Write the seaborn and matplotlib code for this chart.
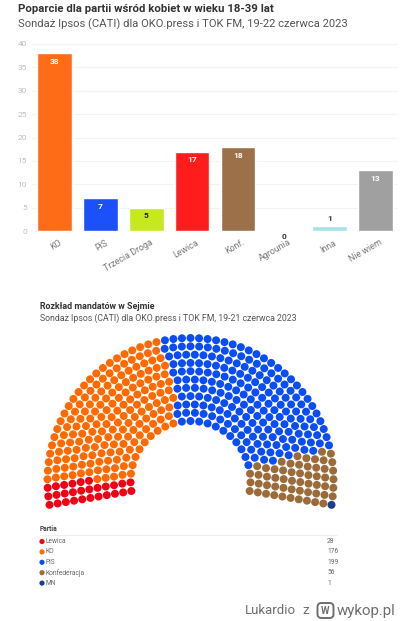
"""Poparcie dla partii i rozklad mandatow - sondaz Ipsos."""

import matplotlib
matplotlib.use('Agg')
import matplotlib.pyplot as plt
from matplotlib.patches import FancyBboxPatch
from matplotlib.transforms import ScaledTranslation
import numpy as np
import pandas as pd
import seaborn as sns

W, H = 400, 621

# bar chart data
parties = ['KO', 'PiS', 'Trzecia Droga', 'Lewica', 'Konf.', 'Agrounia', 'Inna', 'Nie wiem']
support = [38, 7, 5, 17, 18, 0, 1, 13]
bar_colors = ['#FF6C17', '#1B50FA', '#C6E91E', '#FF1C1C', '#9C7149', '#999999', '#A6E2E8', '#A0A0A0']
label_colors = ['white', 'white', '#222222', 'white', 'white', '#333333', '#333333', 'white']

# seats data
seat_parties = ['Lewica', 'KO', 'PiS', 'Konfederacja', 'MN']
seat_counts = [28, 176, 199, 56, 1]
seat_colors = ['#F20014', '#FF6A00', '#0A4DF5', '#9C6B3A', '#1A3F8F']

BODY_FONT = ['Roboto', 'DejaVu Sans']

sns.set_theme(style='white')
plt.rcParams['font.family'] = BODY_FONT


def seat_positions(total, n_rows=11, r_in=60.0, r_out=143.0, a_start=189.6, a_end=-9.6):
    """Rozloz mandaty w rzedach, proporcjonalnie do promienia, i posortuj po kacie."""
    radii = np.linspace(r_in, r_out, n_rows)
    exact = total * radii / radii.sum()
    per_row = np.floor(exact).astype(int)
    rest = total - per_row.sum()
    per_row[np.argsort(exact - per_row)[::-1][:rest]] += 1

    rows = []
    for r, n in zip(radii, per_row):
        angles = np.linspace(a_start, a_end, n)
        rows.append(pd.DataFrame({'r': r, 'angle': angles}))
    seats = pd.concat(rows).sort_values(['angle', 'r'], ascending=[False, True])
    return seats.reset_index(drop=True)


fig = plt.figure(figsize=(W / 100, H / 100), dpi=100, facecolor='white')

# ===========================
# Overlay in pixel coordinates
# ===========================
ax = fig.add_axes([0, 0, 1, 1])
ax.set_xlim(0, W)
ax.set_ylim(H, 0)
ax.axis('off')

# ===========================
# Bar chart
# ===========================
bar_left, bar_right, bar_top, bar_bottom = 31.8, 398.2, 44.0, 231.0
ax_bar = fig.add_axes([bar_left / W, 1 - bar_bottom / H,
                       (bar_right - bar_left) / W, (bar_bottom - bar_top) / H])
bar_df = pd.DataFrame({'party': parties, 'support': support})
sns.barplot(data=bar_df, x='party', y='support', hue='party', palette=bar_colors,
            legend=False, width=0.755, saturation=1, ax=ax_bar, zorder=3)
ax_bar.set_xlim(-0.5, len(parties) - 0.5)
ax_bar.set_ylim(0, 40)
ax_bar.set_yticks(range(0, 45, 5))
ax_bar.set_xlabel('')
ax_bar.set_ylabel('')
ax_bar.grid(axis='y', color='#F3F3F3', lw=0.8, zorder=0)
ax_bar.tick_params(axis='y', labelsize=6, labelcolor='#BDBDBD', length=0, pad=3.5)
ax_bar.tick_params(axis='x', length=0, pad=5)
ax_bar.set_xticks(range(len(parties)))
ax_bar.set_xticklabels(parties, rotation=30, ha='right', rotation_mode='anchor',
                       fontsize=6.4, color='#777777')
shift = ScaledTranslation(3 / 72, 0, fig.dpi_scale_trans)
for tick_label in ax_bar.get_xticklabels():
    tick_label.set_transform(tick_label.get_transform() + shift)
for spine in ax_bar.spines.values():
    spine.set_visible(False)
ax_bar.patch.set_alpha(0)

for i, value in enumerate(support):
    if value >= 5:
        ax_bar.annotate(str(value), (i, value), xytext=(0, -3.5), textcoords='offset points',
                        ha='center', va='top', fontsize=6, fontweight='bold',
                        color=label_colors[i], zorder=5)
    else:
        offset = 3 if value else -1.5
        ax_bar.annotate(str(value), (i, value), xytext=(0, offset), textcoords='offset points',
                        ha='center', va='bottom' if value else 'top', fontsize=6,
                        fontweight='bold', color=label_colors[i], zorder=5,
                        annotation_clip=False)

# ===========================
# Titles
# ===========================
ax.text(18, 9, 'Poparcie dla partii wśród kobiet w wieku 18-39 lat', fontsize=8.2,
        fontweight='bold', color='#333333', va='center')
ax.text(18, 24.5, 'Sondaż Ipsos (CATI) dla OKO.press i TOK FM, 19-22 czerwca 2023',
        fontsize=8.15, color='#555555', va='center')
ax.text(40, 306.5, 'Rozkład mandatów w Sejmie', fontsize=6.4, fontweight='bold',
        color='#333333', va='center')
ax.text(40, 318.5, 'Sondaż Ipsos (CATI) dla OKO.press i TOK FM, 19-21 czerwca 2023',
        fontsize=6.3, color='#555555', va='center')

# ===========================
# Hemicycle
# ===========================
seats = seat_positions(sum(seat_counts))
seats['party'] = np.repeat(seat_parties, seat_counts)
seats['x'] = 190.5 + seats['r'] * np.cos(np.radians(seats['angle']))
seats['y'] = 481 - seats['r'] * np.sin(np.radians(seats['angle']))
sns.scatterplot(data=seats, x='x', y='y', hue='party', hue_order=seat_parties,
                palette=seat_colors, s=33, linewidth=0, legend=False, ax=ax)

# ===========================
# Table legend
# ===========================
ax.text(40, 529, 'Partia', fontsize=4.8, fontweight='bold', color='#444444', va='center')
ax.plot([40, 337], [535, 535], color='#EFEFEF', lw=0.8)
legend_df = pd.DataFrame({'party': seat_parties, 'x': 42.0,
                          'y': 541.5 + 10.4 * np.arange(len(seat_parties))})
sns.scatterplot(data=legend_df, x='x', y='y', hue='party', hue_order=seat_parties,
                palette=seat_colors, s=14, linewidth=0, legend=False, ax=ax)
for name, count, y in zip(seat_parties, seat_counts, legend_df['y']):
    ax.text(46, y, name, fontsize=4.8, color='#666666', va='center')
    ax.text(327, y, str(count), fontsize=4.8, color='#666666', va='center')

# ===========================
# Watermark
# ===========================
ax.text(245, 611, 'Lukardio', fontsize=9.5, color='#6E6E6E', va='center')
ax.text(302, 611, 'z', fontsize=9.5, color='#6E6E6E', va='center')
ax.add_patch(FancyBboxPatch((319, 604.5), 13, 12, boxstyle='round,pad=1.5,rounding_size=4',
                            fc='white', ec='#6E6E6E', lw=1.4))
ax.text(325.5, 610.5, 'W', fontsize=7, fontweight='bold', color='#6E6E6E', ha='center', va='center')
ax.text(337, 610.5, 'wykop.pl', fontsize=10.8, color='#6E6E6E', va='center')
ax.set_xlim(0, W)
ax.set_ylim(H, 0)
ax.axis('off')

fig.savefig('out.png', dpi=100)
